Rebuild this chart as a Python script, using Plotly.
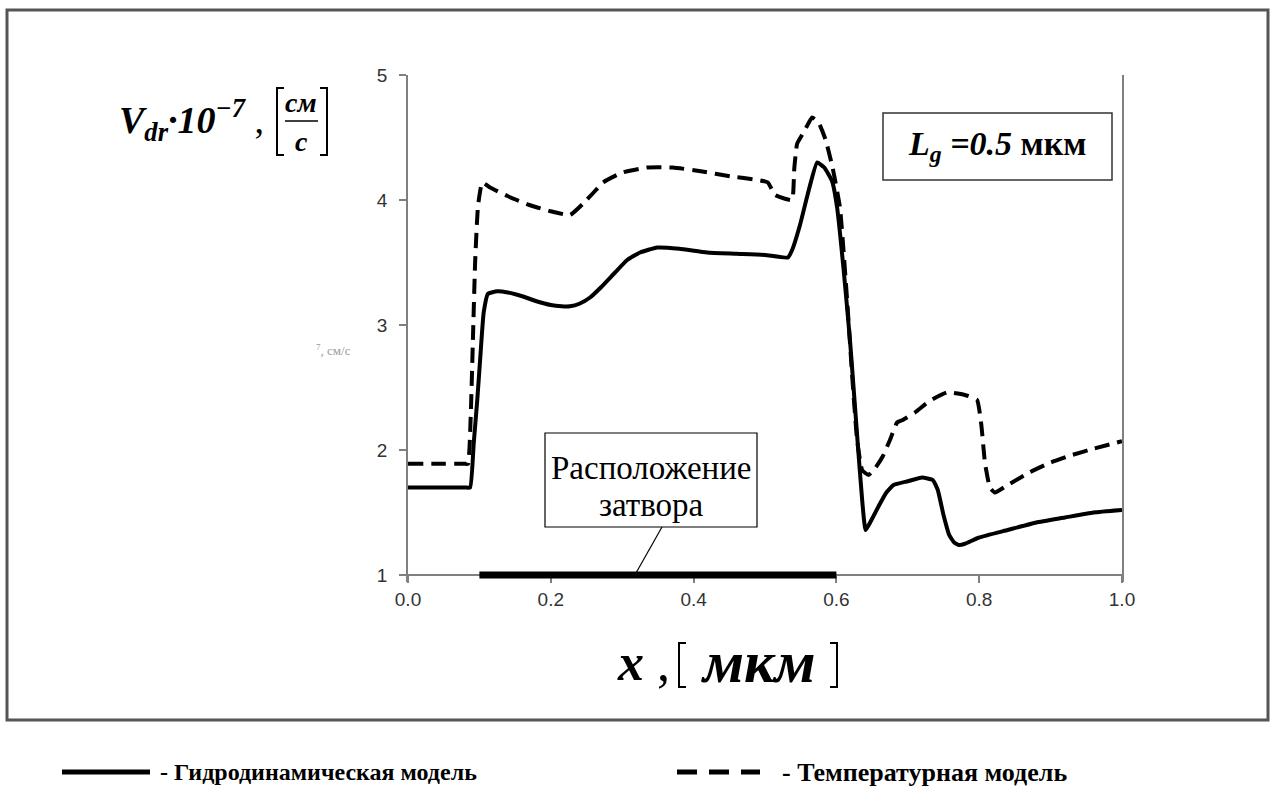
import plotly.graph_objects as go

# Drift velocity along the channel, units of 1e7 cm/s
x_hydro = [0.0, 0.04, 0.080, 0.087, 0.092, 0.097, 0.101, 0.106, 0.112, 0.125, 0.14, 0.16,
           0.18, 0.20, 0.215, 0.227, 0.24, 0.255, 0.27, 0.29, 0.307, 0.325, 0.349, 0.38,
           0.419, 0.46, 0.50, 0.532, 0.538, 0.549, 0.56, 0.573, 0.583, 0.594, 0.601, 0.61,
           0.619, 0.626, 0.633, 0.641, 0.65, 0.66, 0.67, 0.68, 0.70, 0.72, 0.735, 0.742,
           0.75, 0.758, 0.765, 0.772, 0.78, 0.80, 0.84, 0.88, 0.92, 0.96, 1.0]
v_hydro = [1.70, 1.70, 1.70, 1.70, 2.05, 2.40, 2.72, 3.10, 3.25, 3.27, 3.26, 3.23,
           3.19, 3.16, 3.15, 3.15, 3.17, 3.22, 3.30, 3.42, 3.52, 3.58, 3.62, 3.61,
           3.58, 3.57, 3.56, 3.54, 3.60, 3.80, 4.05, 4.30, 4.26, 4.15, 3.94, 3.45,
           2.88, 2.35, 1.82, 1.36, 1.45, 1.56, 1.66, 1.72, 1.75, 1.78, 1.76, 1.68,
           1.48, 1.32, 1.26, 1.24, 1.25, 1.30, 1.36, 1.42, 1.46, 1.50, 1.52]

x_temp = [0.0, 0.04, 0.079, 0.084, 0.088, 0.091, 0.094, 0.098, 0.104, 0.115, 0.14, 0.17,
          0.20, 0.227, 0.245, 0.26, 0.273, 0.30, 0.335, 0.371, 0.41, 0.451, 0.49, 0.504,
          0.514, 0.528, 0.538, 0.541, 0.545, 0.555, 0.566, 0.575, 0.585, 0.595, 0.605,
          0.615, 0.622, 0.629, 0.636, 0.645, 0.655, 0.665, 0.675, 0.685, 0.693, 0.71,
          0.73, 0.755, 0.78, 0.797, 0.803, 0.808, 0.815, 0.822, 0.84, 0.87, 0.90, 0.93,
          0.96, 1.0]
v_temp = [1.89, 1.89, 1.89, 1.89, 2.30, 2.90, 3.50, 3.95, 4.14, 4.10, 4.03, 3.96,
          3.91, 3.88, 3.97, 4.06, 4.14, 4.22, 4.26, 4.26, 4.23, 4.19, 4.16, 4.14,
          4.04, 4.01, 4.00, 4.25, 4.45, 4.55, 4.66, 4.62, 4.48, 4.25, 3.94,
          3.20, 2.60, 2.08, 1.84, 1.80, 1.86, 1.95, 2.08, 2.22, 2.24, 2.30,
          2.39, 2.46, 2.44, 2.40, 2.20, 1.90, 1.70, 1.66, 1.72, 1.82, 1.90, 1.96,
          2.01, 2.07]

# Gate position on the x axis
gate_x = [0.1, 0.6]
gate_y = [1.0, 1.0]

x_ticks = [0.0, 0.2, 0.4, 0.6, 0.8, 1.0]
x_tick_text = ["0.0", "0.2", "0.4", "0.6", "0.8", "1.0"]
y_ticks = [1, 2, 3, 4, 5]

legend_names = ["- Гидродинамическая модель", "- Температурная модель"]

W, H = 1272, 794
L, R, T, B = 408, 1122, 75, 582   # plot area in pixels (x axis sits 7 px above B)
Y_MAX = 5.0
PX_PER_UNIT = 125.0
Y_MIN = 1.0 - (B - 575) / PX_PER_UNIT


def px(xp):
    return (xp - L) / (R - L)


def py(yp):
    return (B - yp) / (B - T)


SERIF = "Liberation Serif"
SANS = "Liberation Sans"

fig = go.Figure()
fig.add_trace(go.Scatter(x=gate_x, y=gate_y, mode="lines",
                         line=dict(color="black", width=7),
                         showlegend=False, hoverinfo="skip"))
fig.add_trace(go.Scatter(x=x_temp, y=v_temp, mode="lines", name=legend_names[1],
                         line=dict(color="black", width=4, dash="15px,8px",
                                   shape="spline", smoothing=0.4),
                         showlegend=False))
fig.add_trace(go.Scatter(x=x_hydro, y=v_hydro, mode="lines", name=legend_names[0],
                         line=dict(color="black", width=4,
                                   shape="spline", smoothing=0.4),
                         showlegend=False))

shapes = []
# outer frame
shapes.append(dict(type="rect", xref="paper", yref="paper",
                   x0=px(7), x1=px(1268), y0=py(10), y1=py(720),
                   line=dict(color="#555555", width=3)))


def bracket(x_line, x_serif, y_top, y_bot, width=2):
    path = (f"M {px(x_serif)},{py(y_top)} L {px(x_line)},{py(y_top)} "
            f"L {px(x_line)},{py(y_bot)} L {px(x_serif)},{py(y_bot)}")
    return dict(type="path", xref="paper", yref="paper", path=path,
                line=dict(color="black", width=width))


# y title brackets and fraction bar
shapes.append(bracket(277, 284, 88, 155))
shapes.append(bracket(327, 320, 88, 155))
shapes.append(dict(type="line", xref="paper", yref="paper",
                   x0=px(285), x1=px(318), y0=py(121), y1=py(121),
                   line=dict(color="black", width=1.5)))
# x title brackets
shapes.append(bracket(679, 686, 643, 687))
shapes.append(bracket(837, 830, 643, 687))

# callout box for the gate and its leader
shapes.append(dict(type="rect", xref="paper", yref="paper",
                   x0=px(545), x1=px(757), y0=py(433), y1=py(527),
                   line=dict(color="black", width=1.2), fillcolor="white"))
shapes.append(dict(type="line", xref="paper", yref="paper",
                   x0=px(662), x1=px(636), y0=py(527), y1=py(573),
                   line=dict(color="black", width=1.2)))
# parameter box
shapes.append(dict(type="rect", xref="paper", yref="paper",
                   x0=px(883), x1=px(1112), y0=py(113), y1=py(180),
                   line=dict(color="#333333", width=1.5), fillcolor="white"))

# legend samples
shapes.append(dict(type="line", xref="paper", yref="paper",
                   x0=px(62), x1=px(150), y0=py(772), y1=py(772),
                   line=dict(color="black", width=5)))
shapes.append(dict(type="line", xref="paper", yref="paper",
                   x0=px(677), x1=px(760), y0=py(772), y1=py(772),
                   line=dict(color="black", width=5, dash="20px,12px")))

ann = []


def text(xp, yp, s, size, font=SERIF, color="black", xanchor="center"):
    ann.append(dict(x=px(xp), y=py(yp), xref="paper", yref="paper", text=s,
                    showarrow=False, xanchor=xanchor, yanchor="middle",
                    font=dict(family=font, size=size, color=color)))


text(266, 120, "<b><i>V<sub>dr</sub>·10<sup>−7</sup></i></b> ,", 38, xanchor="right")
text(301, 102, "<b><i>см</i></b>", 28)
text(301, 141, "<b><i>с</i></b>", 28)
text(333, 350, "<sup>7</sup>, см/с", 13, color="#999999")
text(672, 662, "<b><i>x</i></b> ,", 52, xanchor="right")
text(758, 662, "<b><i>мкм</i></b>", 60)
text(651, 468, "Расположение", 33)
text(651, 505, "затвора", 33)
text(997, 146, "<b><i>L<sub>g</sub> =0.5</i></b> <b>мкм</b>", 34)
text(158, 772, "<b>" + legend_names[0] + "</b>", 24, xanchor="left")
text(780, 772, "<b>" + legend_names[1] + "</b>", 26, xanchor="left")

fig.update_layout(
    width=W, height=H,
    margin=dict(l=L, r=W - R, t=T, b=H - B),
    paper_bgcolor="white", plot_bgcolor="white",
    shapes=shapes, annotations=ann,
    xaxis=dict(range=[0, 1], tickvals=x_ticks, ticktext=x_tick_text,
               anchor="free", position=(B - 575) / (B - T), layer="below traces",
               showgrid=False, zeroline=False, showline=True,
               linecolor="#808080", linewidth=1.5, ticks="outside",
               ticklen=7, tickcolor="#808080", tickwidth=1.5,
               tickfont=dict(family=SANS, size=19, color="#333333")),
    yaxis=dict(range=[Y_MIN, Y_MAX], tickvals=y_ticks, showgrid=False, zeroline=False,
               showline=True, mirror=True, linecolor="#808080", linewidth=1.5,
               layer="below traces",
               ticks="outside", ticklen=7, tickcolor="#808080", tickwidth=1.5,
               ticklabelstandoff=8,
               tickfont=dict(family=SANS, size=19, color="#333333")),
    showlegend=False,
)

fig.write_html("out.html")
